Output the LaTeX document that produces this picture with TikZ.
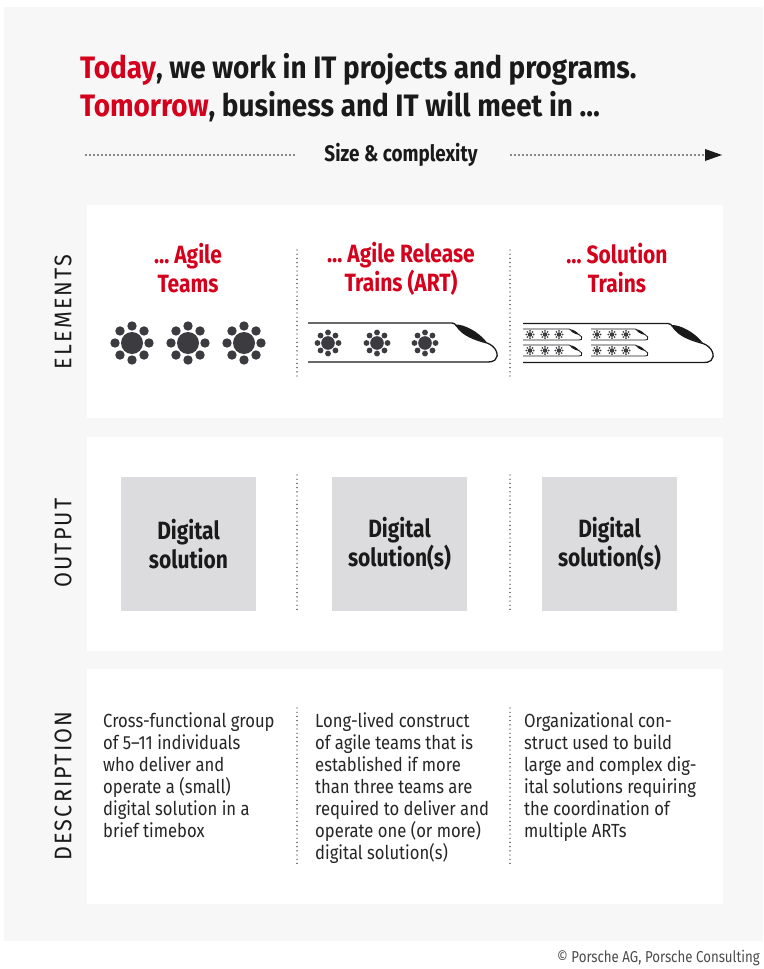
\documentclass[tikz,border=0pt]{standalone}
\usepackage{fontspec}
\setmainfont{Fira Sans}[FakeStretch=0.84]
\newfontfamily\titlefont{Fira Sans}[FakeStretch=0.9]
\newfontfamily\bodyfont{Fira Sans}[FakeStretch=0.875]
\newfontfamily\thinfont{Fira Sans}[FakeStretch=0.9,LetterSpace=9]

\definecolor{pred}{HTML}{D5001C}
\definecolor{panel}{HTML}{F7F7F7}
\definecolor{ink}{HTML}{1A1A1A}
\definecolor{icon}{HTML}{3C3B3F}
\definecolor{tile}{HTML}{DCDCDE}
\definecolor{bodytext}{HTML}{262626}

% a team: one big circle with eight members around it
\newcommand\teamicon[3]{%
  \begin{scope}[shift={(#1,#2)},scale=#3]
    \fill[icon] (0,0) circle (11);
    \foreach \a in {0,45,...,315} {\fill[icon] (\a:17) circle (4.7);}
  \end{scope}}

% a train: origin top left, body length #4, line width #5
\newcommand\train[5]{%
  \begin{scope}[shift={(#1,#2)},scale=#3]
    \draw[ink,line width=#5,line join=round]
      (0,0) -- (#4,0) .. controls (#4+4,0) and (#4+5,5) .. (#4+10,9)
      .. controls (#4+16,14) and (#4+24,17) .. (#4+35,20)
      .. controls (#4+44,23) and (#4+48,33) .. (#4+43,37)
      .. controls (#4+41,39) and (#4+38,39) .. (#4+35,39) -- (0,39);
    \fill[ink] (#4+4,1.5) .. controls (#4+12,1.5) and (#4+26,8) .. (#4+35,19.5)
      .. controls (#4+26,17) and (#4+16,14) .. (#4+10,9)
      .. controls (#4+6,6) .. (#4+4,1.5) -- cycle;
  \end{scope}}

\begin{document}
\begin{tikzpicture}[x=1pt,y=-1pt,
  title/.style={anchor=base west,inner sep=0,text=ink,font=\titlefont\fontsize{31}{37}\selectfont\bfseries},
  dotline/.style={ink,line width=1.7,line cap=round,dash pattern=on 0pt off 4pt},
  vsep/.style={ink,line width=1.4,line cap=round,dash pattern=on 0pt off 4.2pt},
  head/.style={align=center,text=pred,font=\fontsize{25}{29}\selectfont\bfseries},
  tilebox/.style={fill=tile,minimum width=135,minimum height=134,align=center,
    text=ink,font=\fontsize{25}{29}\selectfont\bfseries},
  desc/.style={anchor=north west,inner sep=0,align=left,text=bodytext,
    font=\bodyfont\fontsize{19}{22}\selectfont},
  side/.style={rotate=90,text=ink,font=\thinfont\fontsize{24}{24}\selectfont}]

\useasboundingbox (0,0) rectangle (763,969);
\fill[white] (0,0) rectangle (763,969);
\fill[panel] (4,7) rectangle (763,941);

% three white bands
\fill[white] (87,205) rectangle (723,418);
\fill[white] (87,437) rectangle (723,651);
\fill[white] (87,669) rectangle (723,904);

% heading
\node[title] (title1) at (80,78) {\textcolor{pred}{Today}, we work in IT projects and programs.};
\node[title] (title2) at (80,116) {\textcolor{pred}{Tomorrow}, business and IT will meet in \dots};

% size axis
\node[text=ink,font=\fontsize{22.5}{24}\selectfont\bfseries] (size) at (401,155) {Size \& complexity};
\coordinate (axisL) at (86,155);
\coordinate (axisM1) at (295,155);
\coordinate (axisM2) at (511,155);
\coordinate (axisR) at (704,155);
\coordinate (axisTip) at (722,155);
\draw[dotline] (axisL) -- (axisM1);
\draw[dotline] (axisM2) -- (axisR);
\fill[ink] (705,149) -- (axisTip) -- (705,161) -- cycle;

% side labels
\node[side] (lElements) at (63,312) {ELEMENTS};
\node[side] (lOutput) at (63,543) {OUTPUT};
\node[side] (lDescription) at (63,786) {DESCRIPTION};

% column separators
\foreach \x in {297,510} {
  \draw[vsep] (\x,250) -- (\x,380);
  \draw[vsep] (\x,475) -- (\x,612);
  \draw[vsep] (\x,708) -- (\x,865);
}

% elements
\node[head] (hTeams) at (188,268.5) {\dots{} Agile\\Teams};
\node[head] (hART) at (401,268.5) {\dots{} Agile Release\\Trains (ART)};
\node[head] (hSol) at (617,268.5) {\dots{} Solution\\Trains};

\teamicon{132}{343}{1}
\teamicon{188}{343}{1}
\teamicon{244}{343}{1}

\train{308}{323}{1}{144}{1.3}
\teamicon{328}{343}{0.62}
\teamicon{377}{343}{0.62}
\teamicon{425}{343}{0.62}

\train{523}{323.5}{1}{145}{1.3}
\foreach \y in {329,345} {
  \train{523}{\y}{0.282}{164}{0.8}
  \train{591}{\y}{0.282}{157}{0.8}
  \foreach \x in {530,545,559,597,612,626} {
    \teamicon{\x}{\y+5.5}{0.21}
  }
}

% output
\node[tilebox] (out1) at (188.5,544) {Digital\\solution};
\node[tilebox] (out2) at (399.5,544) {Digital\\solution(s)};
\node[tilebox] (out3) at (609.5,544) {Digital\\solution(s)};

% description
\node[desc] (d1) at (103,712) {Cross-functional group\\of 5–11 individuals\\who deliver and\\operate a (small)\\digital solution in a\\brief timebox};
\node[desc] (d2) at (315,712) {Long-lived construct\\of agile teams that is\\established if more\\than three teams are\\required to deliver and\\operate one (or more)\\digital solution(s)};
\node[desc] (d3) at (524,712) {Organizational con-\\struct used to build\\large and complex dig-\\ital solutions requiring\\the coordination of\\multiple ARTs};

% credit
\node[anchor=base east,inner sep=0,text=black!70,font=\fontsize{15.8}{16}\selectfont] (credit) at (760,962) {© Porsche AG, Porsche Consulting};
\end{tikzpicture}
\end{document}
